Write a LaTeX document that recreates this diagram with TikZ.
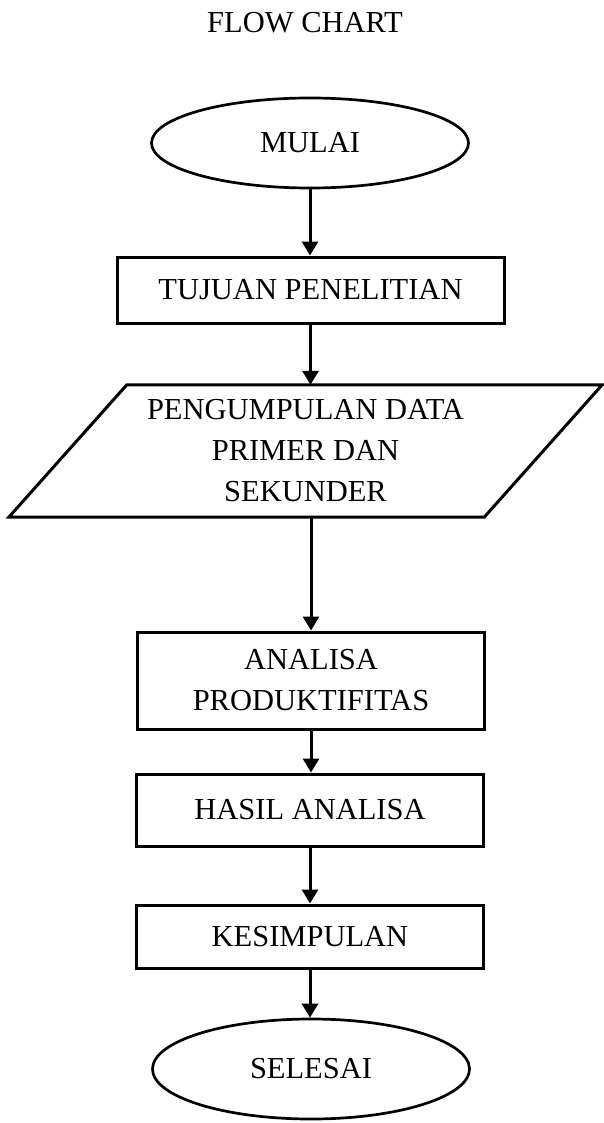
\documentclass[tikz,border=0pt]{standalone}
\usepackage{fontspec}
\setmainfont{Liberation Serif}
\usetikzlibrary{arrows.meta, shapes}

\begin{document}
\begin{tikzpicture}[x=1pt, y=-1pt]
    \tikzstyle{every node} = [font=\fontsize{30.5}{41}\selectfont, align=center, inner sep=0pt]
    \tikzstyle{box} = [draw, line width=3pt, rectangle, minimum width=347]
    \tikzstyle{terminal} = [draw, line width=2.7pt, ellipse, minimum width=317]
    \tikzstyle{flow} = [line width=3pt, -{Triangle[length=14pt, width=16pt]}]
    \useasboundingbox (0, 0) rectangle (603, 1123);
    \node (title) at (305, 23) {FLOW CHART};
    \node [terminal, minimum height=90] (mulai) at (310, 143) {MULAI};
    \node [box, minimum width=387, minimum height=66] (tujuan) at (310.5, 290) {TUJUAN PENELITIAN};
    \node [minimum width=593, minimum height=132] (data) at (305.5, 451) {PENGUMPULAN DATA\\PRIMER DAN\\SEKUNDER};
    \draw [line width=3pt] ([xshift=118pt]data.north west) -- (data.north east)
        -- ([xshift=-118pt]data.south east) -- (data.south west) -- cycle;
    \node [box, minimum height=97] (analisa) at (311, 680.5) {ANALISA\\PRODUKTIFITAS};
    \node [box, minimum height=72] (hasil) at (310, 810) {HASIL ANALISA};
    \node [box, minimum height=63] (kesimpulan) at (310, 936.5) {KESIMPULAN};
    \node [terminal, minimum height=100] (selesai) at (311, 1069) {SELESAI};
    % arrows
    \draw [flow] (mulai.south) -- (mulai.south |- tujuan.north);
    \draw [flow] (tujuan.south) -- (tujuan.south |- data.north);
    \draw [flow] (analisa.north |- data.south) -- (analisa.north);
    \draw [flow] (analisa.south) -- (analisa.south |- hasil.north);
    \draw [flow] (hasil.south) -- (hasil.south |- kesimpulan.north);
    \draw [flow] (kesimpulan.south) -- (kesimpulan.south |- selesai.north);
\end{tikzpicture}
\end{document}
